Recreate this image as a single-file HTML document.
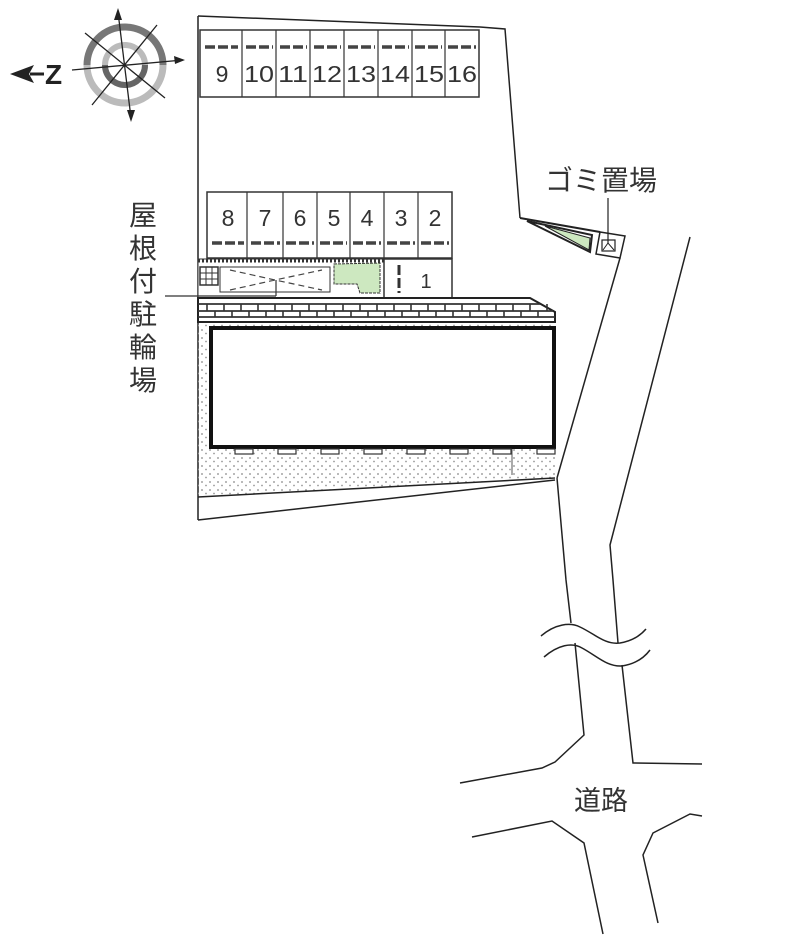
<!DOCTYPE html>
<html><head><meta charset="utf-8"><style>
html,body{margin:0;padding:0;background:#fff;}
svg{display:block;}
text{font-family:"Liberation Sans","Noto Sans CJK JP",sans-serif;fill:#333;}
</style></head><body>
<svg width="800" height="941" viewBox="0 0 800 941" xmlns="http://www.w3.org/2000/svg">
<defs>
<pattern id="dots" width="8" height="8" patternUnits="userSpaceOnUse">
<circle cx="2" cy="2" r="0.9" fill="#888"/><circle cx="6" cy="5.5" r="0.9" fill="#999"/>
</pattern>
</defs>
<!-- compass -->
<g>
<path d="M87,65 A38,38 0 0 1 163,65" fill="none" stroke="#777" stroke-width="7"/>
<path d="M163,65 A38,38 0 0 1 87,65" fill="none" stroke="#bbb" stroke-width="7"/>
<circle cx="125" cy="65" r="20" fill="none" stroke="#bbb" stroke-width="6"/>
<path d="M105,65 A20,20 0 0 0 145,65" fill="none" stroke="#666" stroke-width="6"/>
<g stroke="#222" stroke-width="1.3">
<line x1="118" y1="12" x2="131" y2="118"/>
<line x1="72" y1="70" x2="183" y2="60"/>
<line x1="85" y1="33" x2="165" y2="98"/>
<line x1="157" y1="25" x2="92" y2="105"/>
</g>
<polygon points="118,8 114,20 122,20" fill="#222"/>
<polygon points="131,122 127,110 135,110" fill="#222"/>
<polygon points="185,60 174,56 175,64" fill="#222"/>
<polygon points="10,74 34,65 29,74 34,83" fill="#222"/>
<line x1="30" y1="74" x2="44" y2="74" stroke="#222" stroke-width="3"/>
<text x="45" y="84" font-size="28" font-weight="bold" style="fill:#222">Z</text>
</g>
<!-- site outline -->
<polyline points="198,16 480,27 505,29 520,218" fill="none" stroke="#222" stroke-width="1.5"/>
<line x1="198" y1="16" x2="198" y2="520" stroke="#222" stroke-width="1.5"/>
<polyline points="520,218 600,232" fill="none" stroke="#222" stroke-width="2"/>
<polygon points="527,221 592,235 590,252" fill="#fff" stroke="#222" stroke-width="2"/>
<polygon points="545,226 590,238 589,250" fill="#cde8c0" stroke="#222" stroke-width="1"/>
<polygon points="600,232 625,236 620,258 596,254" fill="#fff" stroke="#222" stroke-width="1.5"/>
<rect x="602" y="240" width="13" height="11" fill="none" stroke="#222" stroke-width="1.2"/>
<path d="M603,250 L608,243 L614,250" fill="none" stroke="#222" stroke-width="1"/>
<line x1="608" y1="198" x2="608" y2="243" stroke="#222" stroke-width="1.2"/>
<line x1="620" y1="258" x2="557" y2="478" stroke="#222" stroke-width="1.5"/>
<!-- top parking -->
<rect x="200" y="30" width="279" height="67" fill="#fff" stroke="#333" stroke-width="1.5"/>
<g stroke="#333" stroke-width="1.2">
<line x1="242" y1="30" x2="242" y2="97"/><line x1="276" y1="30" x2="276" y2="97"/>
<line x1="310" y1="30" x2="310" y2="97"/><line x1="344" y1="30" x2="344" y2="97"/>
<line x1="378" y1="30" x2="378" y2="97"/><line x1="412" y1="30" x2="412" y2="97"/>
<line x1="445" y1="30" x2="445" y2="97"/>
</g>
<g stroke="#444" stroke-width="3.5" stroke-dasharray="10,3">
<line x1="205" y1="47" x2="238" y2="47"/><line x1="246" y1="47" x2="273" y2="47"/>
<line x1="280" y1="47" x2="307" y2="47"/><line x1="314" y1="47" x2="341" y2="47"/>
<line x1="348" y1="47" x2="375" y2="47"/><line x1="382" y1="47" x2="409" y2="47"/>
<line x1="415" y1="47" x2="442" y2="47"/><line x1="448" y1="47" x2="476" y2="47"/>
</g>
<g font-size="23" text-anchor="middle">
<text x="222" y="82">9</text><text x="259" y="82" textLength="30" lengthAdjust="spacingAndGlyphs">10</text><text x="293" y="82" textLength="30" lengthAdjust="spacingAndGlyphs">11</text>
<text x="327" y="82" textLength="30" lengthAdjust="spacingAndGlyphs">12</text><text x="361" y="82" textLength="30" lengthAdjust="spacingAndGlyphs">13</text><text x="395" y="82" textLength="30" lengthAdjust="spacingAndGlyphs">14</text>
<text x="429" y="82" textLength="30" lengthAdjust="spacingAndGlyphs">15</text><text x="462" y="82" textLength="30" lengthAdjust="spacingAndGlyphs">16</text>
</g>
<!-- second row -->
<rect x="207" y="192" width="245" height="66" fill="#fff" stroke="#333" stroke-width="1.5"/>
<g stroke="#333" stroke-width="1.2">
<line x1="247" y1="192" x2="247" y2="258"/><line x1="283" y1="192" x2="283" y2="258"/>
<line x1="317" y1="192" x2="317" y2="258"/><line x1="350" y1="192" x2="350" y2="258"/>
<line x1="384" y1="192" x2="384" y2="258"/><line x1="418" y1="192" x2="418" y2="258"/>
</g>
<g stroke="#444" stroke-width="3.5" stroke-dasharray="10,3">
<line x1="212" y1="243" x2="244" y2="243"/><line x1="251" y1="243" x2="280" y2="243"/>
<line x1="286" y1="243" x2="314" y2="243"/><line x1="320" y1="243" x2="347" y2="243"/>
<line x1="353" y1="243" x2="381" y2="243"/><line x1="387" y1="243" x2="415" y2="243"/>
<line x1="421" y1="243" x2="449" y2="243"/>
</g>
<g font-size="23" text-anchor="middle">
<text x="228" y="226">8</text><text x="265" y="226">7</text><text x="300" y="226">6</text>
<text x="334" y="226">5</text><text x="367" y="226">4</text><text x="401" y="226">3</text>
<text x="435" y="226">2</text>
</g>
<!-- bike area row -->
<rect x="198" y="259" width="186" height="39" fill="#fff" stroke="#333" stroke-width="1"/>
<line x1="198" y1="261" x2="384" y2="261" stroke="#333" stroke-width="3" stroke-dasharray="2,2"/>
<rect x="200" y="267" width="18" height="18" fill="#fff" stroke="#333" stroke-width="1.5"/>
<g stroke="#333" stroke-width="1"><line x1="206" y1="267" x2="206" y2="285"/><line x1="212" y1="267" x2="212" y2="285"/><line x1="200" y1="273" x2="218" y2="273"/><line x1="200" y1="279" x2="218" y2="279"/></g>
<rect x="220" y="267" width="110" height="25" fill="#fff" stroke="#333" stroke-width="1"/>
<path d="M230,270 L275,280 L322,270 M230,290 L275,280 L322,290" fill="none" stroke="#444" stroke-width="1.2" stroke-dasharray="6,4"/>
<polygon points="334,264 380,263 380,293 360,293 357,284 334,284" fill="#cde8c0" stroke="#333" stroke-width="1" stroke-dasharray="3,1"/>
<rect x="384" y="259" width="68" height="39" fill="#fff" stroke="#333" stroke-width="1.5"/>
<line x1="399" y1="265" x2="399" y2="293" stroke="#333" stroke-width="3" stroke-dasharray="10,3"/>
<text x="426" y="288" font-size="20" text-anchor="middle">1</text>
<line x1="165" y1="296" x2="276" y2="296" stroke="#333" stroke-width="1.2"/>
<line x1="276" y1="280" x2="276" y2="296" stroke="#333" stroke-width="1.2"/>
<!-- dotted ground -->
<polygon points="198,322 555,322 555,478 198,497" fill="url(#dots)" stroke="none"/>
<line x1="198" y1="497" x2="555" y2="478" stroke="#222" stroke-width="1.5"/>
<line x1="198" y1="520" x2="555" y2="480" stroke="#222" stroke-width="1.5"/>
<line x1="512" y1="448" x2="512" y2="475" stroke="#555" stroke-width="1"/>
<!-- brick band -->
<polygon points="198,298 530,298 555,312 555,322 198,322" fill="#fff" stroke="#222" stroke-width="2"/>
<g stroke="#333" stroke-width="1.8" fill="none">
<line x1="198" y1="304" x2="540" y2="304"/><line x1="198" y1="311" x2="553" y2="311"/><line x1="198" y1="317" x2="555" y2="317"/>
</g>
<g stroke="#333" stroke-width="1.6">
<path d="M207,304v7M224,304v7M241,304v7M258,304v7M275,304v7M292,304v7M309,304v7M326,304v7M343,304v7M360,304v7M377,304v7M394,304v7M411,304v7M428,304v7M445,304v7M462,304v7M479,304v7M496,304v7M513,304v7M530,304v7M547,304v7"/>
<path d="M215,311v6M232,311v6M249,311v6M266,311v6M283,311v6M300,311v6M317,311v6M334,311v6M351,311v6M368,311v6M385,311v6M402,311v6M419,311v6M436,311v6M453,311v6M470,311v6M487,311v6M504,311v6M521,311v6M538,311v6"/>
</g>
<!-- building -->
<rect x="211" y="328" width="343" height="119" fill="#fff" stroke="#111" stroke-width="4"/>
<g fill="#fff" stroke="#333" stroke-width="1.2">
<rect x="235" y="449" width="18" height="5"/><rect x="278" y="449" width="18" height="5"/>
<rect x="321" y="449" width="18" height="5"/><rect x="364" y="449" width="18" height="5"/>
<rect x="407" y="449" width="18" height="5"/><rect x="450" y="449" width="18" height="5"/>
<rect x="493" y="449" width="18" height="5"/><rect x="537" y="449" width="18" height="5"/>
</g>
<!-- labels -->
<g font-size="28" text-anchor="middle">
<text x="143" y="225">屋</text><text x="143" y="258">根</text><text x="143" y="291">付</text>
<text x="143" y="324">駐</text><text x="143" y="357">輪</text><text x="143" y="390">場</text>
</g>
<text x="545" y="190" font-size="28">ゴミ置場</text>
<text x="574" y="810" font-size="27">道路</text>
<!-- roads -->
<g fill="none" stroke="#222" stroke-width="1.5">
<polyline points="557,478 566,580 571,623"/>
<polyline points="575,643 584,735 555,762 542,768 460,783"/>
<polyline points="690,237 610,545 613,580 618,643"/>
<polyline points="622,665 633,763 702,764"/>
<path d="M541,636 C555,624 570,622 580,627 C595,634 605,645 620,643 C632,641 640,636 646,629"/>
<path d="M544,657 C558,645 572,642 582,648 C597,656 607,667 622,666 C635,664 644,658 650,650"/>
<polyline points="472,837 552,821 584,843 603,934"/>
<polyline points="658,923 643,855 653,833 690,814 702,816"/>
</g>
</svg>
</body></html>
